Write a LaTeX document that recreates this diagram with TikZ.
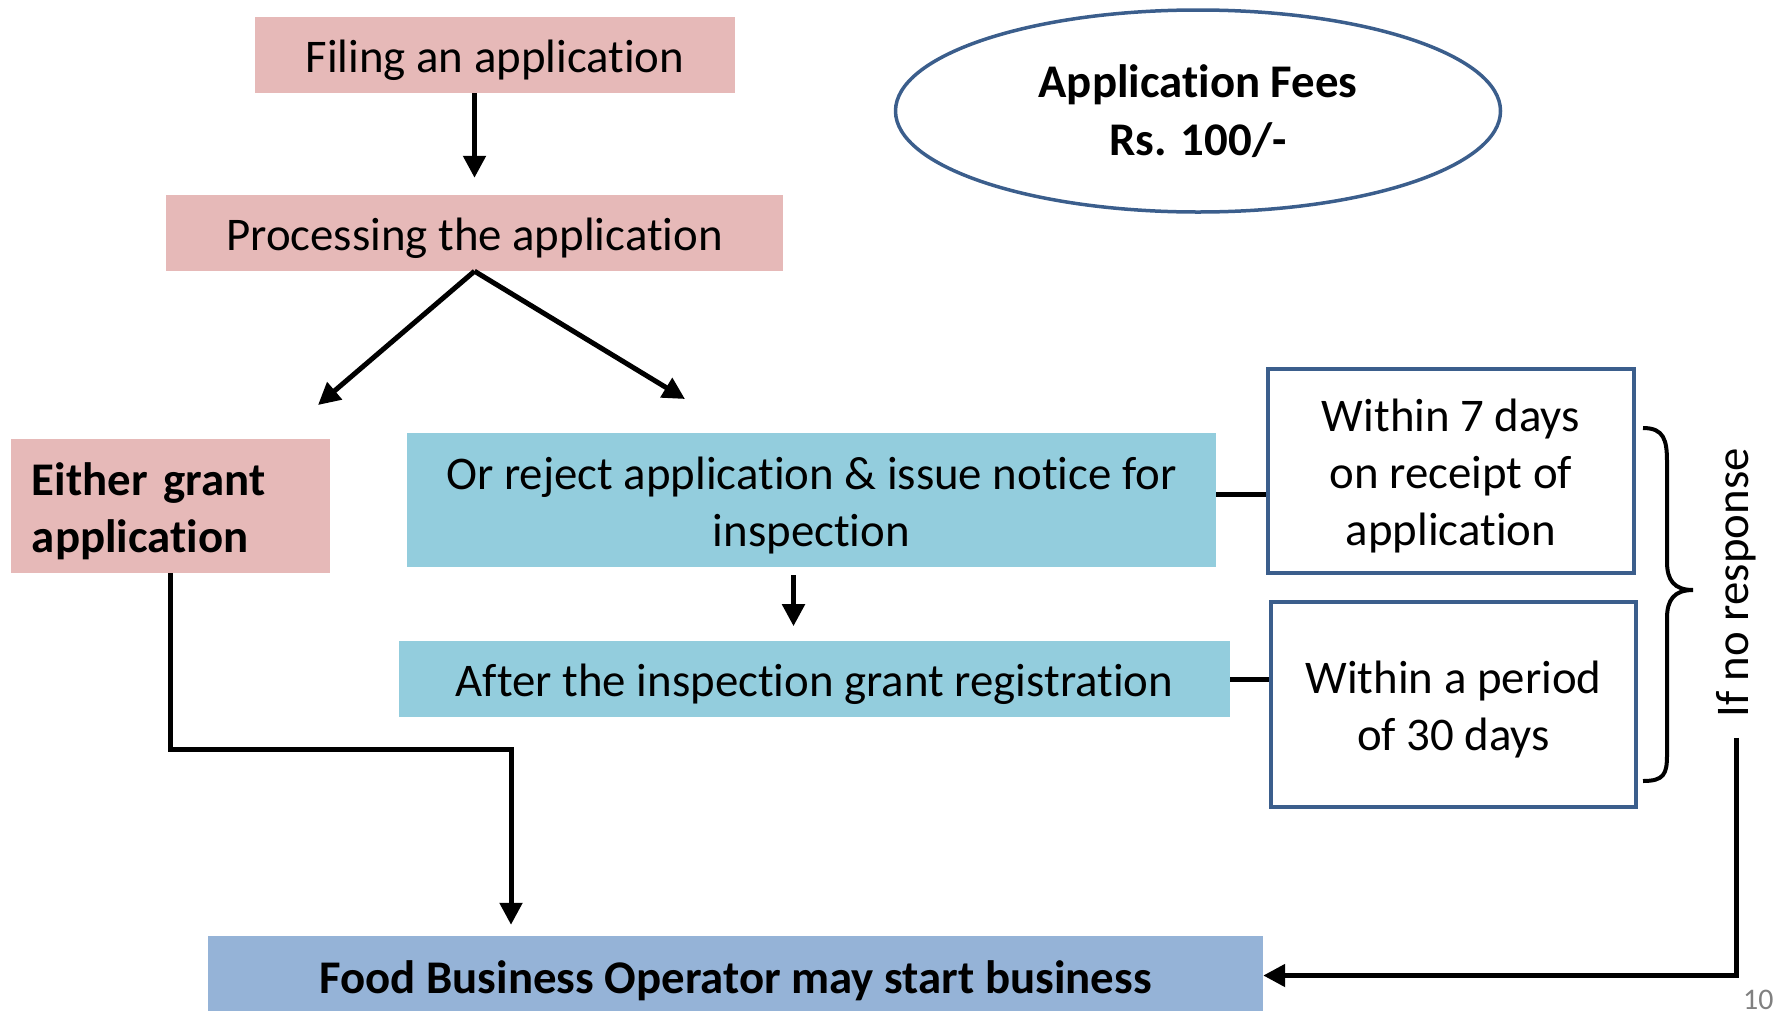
\documentclass[tikz,border=0pt]{standalone}
\usepackage{fontspec}
\setmainfont{Carlito}[Ligatures={NoRequired,NoCommon,NoContextual}]
% keep t and i apart (no ti ligature)
\XeTeXinterchartokenstate=1
\newXeTeXintercharclass\iletterclass
\XeTeXcharclass`i=\iletterclass
\XeTeXinterchartoks 0 \iletterclass = {\kern0pt}
\usetikzlibrary{arrows.meta}
\usetikzlibrary{shapes.geometric, positioning}
\definecolor{pinkfill}{HTML}{E6B9B8}
\definecolor{cyanfill}{HTML}{93CDDD}
\definecolor{bluefill}{HTML}{95B3D7}
\definecolor{boxline}{HTML}{3B5E8C}
\newcommand{\boxstrut}{\rule{0pt}{0.92em}}
\tikzset{
    flowbox/.style={rectangle, inner sep=0pt, align=center, font=\fontsize{47}{57}\selectfont},
    pinkbox/.style={flowbox, fill=pinkfill},
    cyanbox/.style={flowbox, fill=cyanfill},
    timebox/.style={flowbox, draw=boxline, line width=3.5bp, fill=white},
    arr/.style={-{Triangle[length=22bp,width=22bp]}, line width=5bp},
    link/.style={line width=5bp},
}

\begin{document}
\begin{tikzpicture}[x=1bp,y=-1bp]
    \useasboundingbox (0,0) rectangle (1779,1010);

    % Steps
    \node[pinkbox, minimum width=480bp, minimum height=76bp] (filing) at (495,55) {\boxstrut Filing an application};
    \node[pinkbox, minimum width=617bp, minimum height=76bp] (proc) at (474.5,233) {\boxstrut Processing the application};
    \node[pinkbox, text width=277bp, inner xsep=21bp, minimum height=134bp, align=left,
          font=\fontsize{47}{57}\selectfont\bfseries] (either) at (170.5,506) {\boxstrut Either grant\\application};
    \node[cyanbox, minimum width=809bp, minimum height=134bp] (reject) at (811.5,500) {\boxstrut Or reject application \& issue notice for\\inspection};
    \node[cyanbox, minimum width=831bp, minimum height=76bp] (after) at (814.5,679) {\boxstrut After the inspection grant registration};
    \node[flowbox, fill=bluefill, minimum width=1055bp, minimum height=79bp,
          font=\fontsize{47}{57}\selectfont\bfseries] (food) at (735.5,975.5) {\boxstrut Food Business Operator may start business};

    % Fees
    \node[ellipse, draw=boxline, line width=3.5bp, minimum width=605bp, minimum height=202bp, align=center,
          font=\fontsize{47}{58}\selectfont\bfseries] (fees) at (1198,111) {Application Fees\\Rs. 100/-};

    % Time limits
    \node[timebox, minimum width=366bp, minimum height=204bp] (days7) at (1451,471) {\boxstrut Within 7 days\\on receipt of\\application};
    \node[timebox, minimum width=365bp, minimum height=205bp] (days30) at (1453.5,704.5) {\boxstrut Within a period\\of 30 days};
    \node[rotate=90, inner xsep=20bp, inner ysep=0pt, font=\fontsize{47}{57}\selectfont] (noresp) at (1736,583) {If no response};
    \node[anchor=base west, inner sep=0pt, text=gray, font=\fontsize{30}{32}\selectfont] (pagenum) at (1743,1009) {10};

    % Brace
    \draw[line width=4bp] (1643,428) .. controls (1664,428) and (1667,440) .. (1667,462)
        -- (1667,562) .. controls (1667,580) and (1674,590) .. (1693,590)
        .. controls (1674,590) and (1667,600) .. (1667,618)
        -- (1667,755) .. controls (1667,774) and (1664,781) .. (1643,781);

    % Arrows
    \coordinate (leftend) at (318,405);
    \coordinate (rightend) at (685,399);
    \coordinate (bend) at (511,749);
    \draw[arr] (filing.south -| proc.north) -- ([yshift=17bp]proc.north);
    \draw[arr] (proc.south) -- (leftend);
    \draw[arr] (proc.south) -- (rightend);
    \draw[arr, shorten >=11bp] (either.south) |- (bend) -- (bend |- food.north);
    \draw[arr] ([xshift=-18bp,yshift=-8bp]reject.south) -- ++(0,51);
    \draw[link] ([yshift=6bp]reject.east) -- ([yshift=6bp]reject.east -| days7.west);
    \draw[link] (after.east) -- (after.east -| days30.west);
    \draw[arr] (noresp.west) |- (food.east);

\end{tikzpicture}
\end{document}
